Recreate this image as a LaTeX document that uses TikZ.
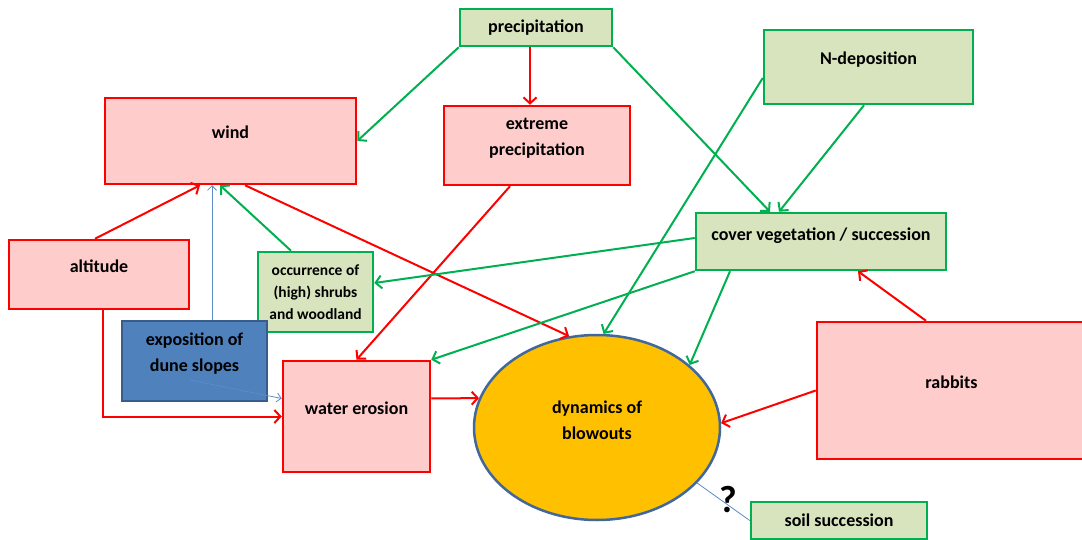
\documentclass[tikz,border=0pt]{standalone}
\usepackage{fontspec}
\setmainfont{Carlito}
\usetikzlibrary{arrows.meta,shapes.geometric}
\definecolor{redline}{HTML}{FF0000}
\definecolor{redfill}{HTML}{FFCCCC}
\definecolor{greenline}{HTML}{00B050}
\definecolor{greenfill}{HTML}{D7E4BD}
\definecolor{blueline}{HTML}{5B8BC9}
\definecolor{bluefill}{HTML}{4F81BD}
\definecolor{blueborder}{HTML}{385D8A}
\definecolor{orangefill}{HTML}{FFC000}
\definecolor{ellborder}{HTML}{41689A}
\begin{document}
\begin{tikzpicture}[x=1pt, y=-1pt,
    font=\fontsize{18}{26}\selectfont\bfseries,
    redbox/.style={draw=redline, fill=redfill, line width=2.5pt, align=center, text depth=17pt},
    greenbox/.style={draw=greenline, fill=greenfill, line width=2.5pt, align=center},
    redarrow/.style={draw=redline, line width=2pt, -{Straight Barb[length=6pt,width=13pt]}},
    greenarrow/.style={draw=greenline, line width=2pt, -{Straight Barb[length=6pt,width=13pt]}},
    bluearrow/.style={draw=blueline, line width=0.8pt, -{Straight Barb[length=4.5pt,width=9pt]}}]
    % page frame
    \useasboundingbox (0,0) rectangle (1082,540);
    % boxes, top row
    \node[greenbox, minimum width=152pt, minimum height=37pt] (prec) at (536,27.5) {precipitation};
    \node[redbox, minimum width=251pt, minimum height=86pt] (wind) at (230.5,141) {wind};
    \node[redbox, minimum width=186pt, minimum height=79pt] (extreme) at (537,145.5) {extreme\\precipitation};
    \node[greenbox, text depth=17pt, minimum width=209pt, minimum height=74pt] (ndep) at (868.5,67) {N-deposition};
    % boxes, middle row
    \node[greenbox, text depth=15pt, minimum width=250pt, minimum height=57pt] (cover) at (821,241.5) {cover vegetation / succession};
    \node[redbox, minimum width=180pt, minimum height=69pt] (altitude) at (99,274.5) {altitude};
    \node[greenbox, font=\fontsize{15.5}{22}\selectfont\bfseries, inner sep=1pt, minimum width=115pt, minimum height=80pt] (shrubs) at (315.5,292) {occurrence of\\(high) shrubs\\and woodland};
    \node[draw=blueborder, fill=bluefill, line width=2.5pt, align=center, text depth=17pt, minimum width=145pt, minimum height=80pt] (expo) at (194.5,361) {exposition of\\dune slopes};
    % boxes, bottom row
    \node[redbox, minimum width=147pt, minimum height=111pt] (water) at (356.5,416.5) {water erosion};
    \node[ellipse, draw=ellborder, fill=orangefill, line width=2.5pt, align=center, text depth=15pt, minimum width=246pt, minimum height=185pt] (blow) at (597,427.5) {dynamics of\\blowouts};
    \node[redbox, minimum width=269pt, minimum height=137pt] (rabbits) at (951.5,390.5) {rabbits};
    \node[greenbox, minimum width=176pt, minimum height=37pt] (soil) at (839,520.5) {soil succession};
    % red links
    \draw[redarrow] ([xshift=-6pt]prec.south) -- ([xshift=-7pt]extreme.north);
    \draw[redarrow] ([xshift=-4pt]altitude.north) -- ([xshift=-30.5pt]wind.south);
    \draw[redarrow] ([xshift=14.5pt]wind.south) -- (blow.107);
    \draw[redarrow] ([xshift=-27pt]extreme.south) -- (water.north);
    \draw[redarrow] ([xshift=4pt]altitude.south) |- (water.west);
    \draw[redarrow] ([yshift=18pt]water.east) -- (blow.166);
    \draw[redarrow] ([xshift=-25.5pt]rabbits.north) -- ([xshift=37pt]cover.south);
    \draw[redarrow] (rabbits.west) -- (blow.2);
    % green links
    \draw[greenarrow] (prec.south west) -- (wind.east);
    \draw[greenarrow] (prec.south east) -- ([xshift=-51pt]cover.north);
    \draw[greenarrow] ([xshift=-4.5pt]ndep.south) -- ([xshift=-42pt]cover.north);
    \draw[greenarrow] ([yshift=-11pt]ndep.west) -- (blow.86);
    \draw[greenarrow] ([yshift=3.5pt]cover.west) -- ([yshift=9pt]shrubs.east);
    \draw[greenarrow] (cover.south west) -- (water.north east);
    \draw[greenarrow] ([xshift=-91pt]cover.south) -- (blow.34);
    \draw[greenarrow] ([xshift=-24.5pt]shrubs.north) -- ([xshift=-10.5pt]wind.south);
    % thin blue links
    \draw[bluearrow] ([xshift=17.5pt]expo.north) -- ([xshift=17.5pt]expo.north |- wind.south);
    \draw[bluearrow] ([xshift=-4.5pt,yshift=-19pt]expo.center) -- ([yshift=18pt]water.west);
    \draw[draw=blueline, line width=0.8pt] (blow.-29) -- (soil.west);
    % unknown link
    \node[font=\fontsize{38}{38}\selectfont\bfseries] (qmark) at (728,500) {?};
\end{tikzpicture}
\end{document}
